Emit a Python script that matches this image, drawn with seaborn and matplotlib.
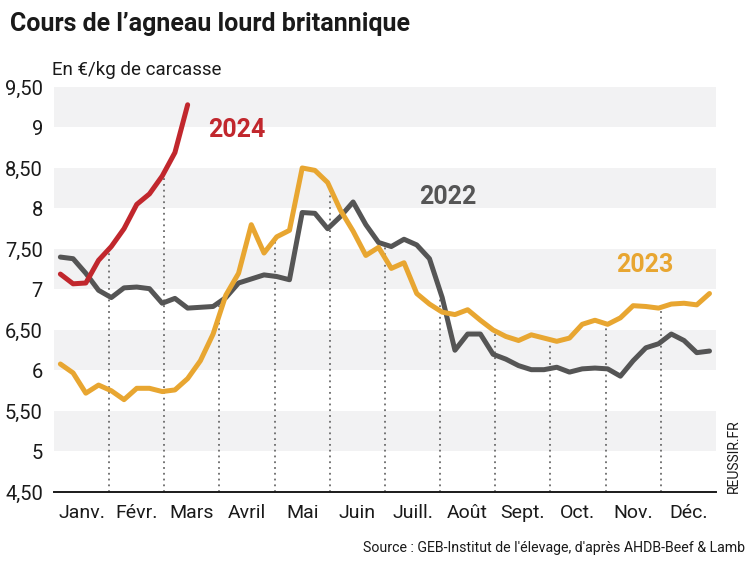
import numpy as np
import pandas as pd
import matplotlib
matplotlib.use("Agg")
import matplotlib.pyplot as plt
import seaborn as sns

# ── DATA (€/kg carcasse, weekly) ─────────────────────────────────────────────
mois = ["Janv.", "Févr.", "Mars", "Avril", "Mai", "Juin",
        "Juill.", "Août", "Sept.", "Oct.", "Nov.", "Déc."]

cours_2022 = [7.40, 7.38, 7.20, 6.99, 6.90, 7.02, 7.03, 7.01, 6.83, 6.89,
              6.77, 6.78, 6.79, 6.90, 7.08, 7.13, 7.18, 7.16, 7.12, 7.95,
              7.94, 7.75, 7.90, 8.08, 7.80, 7.58, 7.53, 7.62, 7.55, 7.38,
              6.90, 6.25, 6.45, 6.45, 6.20, 6.14, 6.06, 6.01, 6.01, 6.04,
              5.98, 6.02, 6.03, 6.02, 5.93, 6.12, 6.28, 6.33, 6.45, 6.37,
              6.22, 6.24]

cours_2023 = [6.08, 5.97, 5.72, 5.82, 5.75, 5.64, 5.78, 5.78, 5.74, 5.76,
              5.90, 6.12, 6.45, 6.93, 7.20, 7.80, 7.45, 7.65, 7.73, 8.50,
              8.47, 8.32, 7.98, 7.72, 7.42, 7.52, 7.26, 7.33, 6.95, 6.82,
              6.72, 6.69, 6.75, 6.62, 6.50, 6.42, 6.37, 6.44, 6.40, 6.36,
              6.40, 6.57, 6.62, 6.57, 6.65, 6.80, 6.79, 6.77, 6.82, 6.83,
              6.81, 6.95]

cours_2024 = [7.19, 7.07, 7.08, 7.36, 7.53, 7.75, 8.05, 8.18, 8.40, 8.69,
              9.28]

y_ticks = [4.5, 5, 5.5, 6, 6.5, 7, 7.5, 8, 8.5, 9, 9.5]
y_labels = ["4,50", "5", "5,50", "6", "6,50", "7", "7,50", "8", "8,50", "9", "9,50"]

couleurs = {"2022": "#555555", "2023": "#e8a631", "2024": "#c1272d"}

# ── LONG FORMAT ──────────────────────────────────────────────────────────────
frames = []
for annee, vals in [("2022", cours_2022), ("2023", cours_2023), ("2024", cours_2024)]:
    semaine = np.arange(1, len(vals) + 1)
    frames.append(pd.DataFrame({"annee": annee,
                                "mois_pos": (semaine - 0.5) * 12 / 52,
                                "cours": vals}))
df = pd.concat(frames, ignore_index=True)

# ── PLOT ─────────────────────────────────────────────────────────────────────
sns.set_theme(style="white")
plt.rcParams["font.family"] = ["Roboto", "DejaVu Sans"]

fig = plt.figure(figsize=(7.47, 5.61), dpi=100)
ax = fig.add_axes([0.0723, 0.123, 0.886, 0.722])

# alternating grey bands
for lo in [5, 6, 7, 8, 9]:
    ax.axhspan(lo, lo + 0.5, color="#f2f2f3", zorder=0, lw=0)

# dotted month separators, up to the highest curve
for m in range(1, 12):
    tops = []
    for annee in couleurs:
        d = df[df["annee"] == annee]
        if d["mois_pos"].min() <= m <= d["mois_pos"].max():
            tops.append(np.interp(m, d["mois_pos"], d["cours"]))
    ax.plot([m, m], [4.5, max(tops)], color="#6b6b6b", lw=1.3,
            linestyle=(0, (1, 2.2)), zorder=1)

sns.lineplot(data=df, x="mois_pos", y="cours", hue="annee", palette=couleurs,
             linewidth=3.6, legend=False, ax=ax, zorder=3,
             solid_joinstyle="round", solid_capstyle="round")

ax.set_xlim(0, 12)
ax.set_ylim(4.5, 9.5)
ax.set_xticks(np.arange(12) + 0.5)
ax.set_xticklabels(mois, fontsize=14, color="#1a1a1a")
ax.set_yticks(y_ticks)
ax.set_yticklabels(y_labels, fontsize=14.5, color="#1a1a1a")
ax.tick_params(axis="x", length=0, pad=9)
ax.tick_params(axis="y", length=0, pad=8)
ax.set_xlabel("")
ax.set_ylabel("")
for s in ["top", "right", "left"]:
    ax.spines[s].set_visible(False)
ax.spines["bottom"].set_color("#1a1a1a")
ax.spines["bottom"].set_linewidth(1.4)

# series labels
ax.text(3.32, 8.97, "2024", color=couleurs["2024"], fontsize=18,
        fontweight="bold", ha="center", va="center")
ax.text(7.14, 8.14, "2022", color=couleurs["2022"], fontsize=18,
        fontweight="bold", ha="center", va="center")
ax.text(10.71, 7.30, "2023", color=couleurs["2023"], fontsize=18,
        fontweight="bold", ha="center", va="center")

# texts
fig.text(10 / 747, 1 - 24 / 561, "Cours de l’agneau lourd britannique",
         fontsize=18, fontweight="bold", color="#1a1a1a", va="center")
fig.text(52 / 747, 1 - 70 / 561, "En €/kg de carcasse",
         fontsize=13.5, color="#1a1a1a", va="center")
fig.text(745 / 747, 1 - 548 / 561,
         "Source : GEB-Institut de l'élevage, d'après AHDB-Beef & Lamb",
         fontsize=10.2, color="#1a1a1a", ha="right", va="center")
fig.text(734 / 747, 1 - 456 / 561, "REUSSIR.FR", fontsize=10,
         color="#1a1a1a", rotation=90, ha="center", va="center")

plt.savefig("out.png", dpi=100)
